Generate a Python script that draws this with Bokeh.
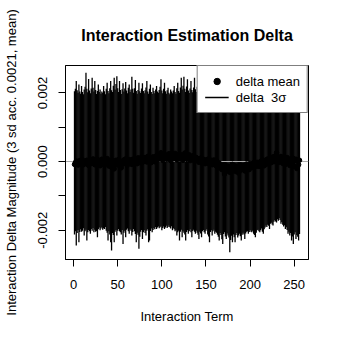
from bokeh.plotting import figure
from bokeh.models import Range1d, FixedTicker, Legend, LegendItem, ColumnDataSource
from bokeh.embed import file_html
from bokeh.resources import INLINE

# ---- data ----
term = list(range(1, 257))

delta_mean = [
    -0.00008, -0.00003, 0.00002, -0.00006, -0.00010, -0.00004, 0.00003, -0.00007, -0.00002, 0.00005, -0.00009, -0.00004, 0.00001, -0.00006, 0.00004, -0.00003,
    -0.00011, 0.00002, 0.00006, -0.00005, -0.00002, 0.00008, -0.00004, -0.00009, 0.00003, 0.00000, -0.00006, 0.00005, -0.00003, -0.00012, 0.00002, 0.00007,
    -0.00004, -0.00008, 0.00004, 0.00001, -0.00005, 0.00009, -0.00002, -0.00013, 0.00003, -0.00007, -0.00016, 0.00002, -0.00004, -0.00021, -0.00006, 0.00004,
    -0.00009, -0.00003, 0.00006, -0.00011, -0.00002, -0.00018, 0.00001, -0.00007, 0.00005, -0.00004, 0.00008, -0.00002, -0.00010, 0.00003, 0.00006, -0.00005,
    0.00002, -0.00008, 0.00007, 0.00000, -0.00004, 0.00009, 0.00003, -0.00006, 0.00011, 0.00001, -0.00003, 0.00006, 0.00013, -0.00002, 0.00004, 0.00009,
    0.00012, 0.00003, -0.00001, 0.00015, 0.00006, 0.00002, 0.00010, -0.00003, 0.00007, 0.00014, 0.00004, 0.00000, 0.00009, 0.00017, 0.00005, 0.00011,
    0.00019, 0.00008, 0.00026, 0.00012, 0.00004, 0.00016, 0.00021, 0.00009, 0.00014, 0.00006, 0.00018, 0.00023, 0.00011, 0.00003, 0.00015, 0.00020,
    0.00008, 0.00013, 0.00024, 0.00010, 0.00005, 0.00017, 0.00012, 0.00022, 0.00007, 0.00014, 0.00019, 0.00004, 0.00011, 0.00025, 0.00009, 0.00016,
    0.00006, 0.00013, 0.00020, 0.00003, 0.00010, 0.00015, 0.00007, 0.00018, 0.00002, 0.00009, 0.00012, 0.00004, 0.00008, -0.00002, 0.00006, 0.00010,
    0.00001, -0.00004, 0.00007, 0.00003, -0.00006, 0.00005, 0.00000, -0.00003, 0.00008, -0.00007, 0.00002, 0.00004, -0.00009, -0.00001, 0.00005, -0.00005,
    -0.00011, 0.00002, -0.00008, -0.00014, -0.00004, -0.00018, -0.00009, -0.00023, -0.00012, -0.00016, -0.00036, -0.00010, -0.00020, -0.00027, -0.00013, -0.00019,
    -0.00031, -0.00015, -0.00022, -0.00008, -0.00025, -0.00017, -0.00012, -0.00029, -0.00020, -0.00014, -0.00033, -0.00018, -0.00010, -0.00024, -0.00016, -0.00021,
    -0.00011, -0.00027, -0.00015, -0.00007, -0.00019, -0.00012, -0.00023, -0.00005, -0.00014, -0.00009, -0.00017, -0.00003, -0.00011, -0.00006, -0.00013, -0.00002,
    -0.00008, -0.00014, -0.00004, 0.00001, -0.00010, -0.00006, 0.00003, -0.00012, -0.00002, 0.00005, -0.00007, 0.00008, -0.00004, 0.00002, 0.00011, -0.00003,
    0.00006, 0.00014, 0.00000, 0.00009, 0.00018, 0.00026, 0.00004, 0.00012, -0.00002, 0.00007, 0.00015, 0.00003, -0.00005, 0.00010, 0.00001, -0.00008,
    0.00006, 0.00012, -0.00003, 0.00004, -0.00011, 0.00008, 0.00002, -0.00006, 0.00009, -0.00014, 0.00003, 0.00007, -0.00020, 0.00005, -0.00009, 0.00004,
]

delta_upper = [
    0.00205, 0.00212, 0.00235, 0.00208, 0.00201, 0.00225, 0.00204, 0.00198, 0.00220, 0.00203, 0.00196, 0.00210, 0.00218, 0.00259, 0.00212, 0.00202,
    0.00241, 0.00207, 0.00199, 0.00213, 0.00244, 0.00215, 0.00204, 0.00235, 0.00209, 0.00197, 0.00206, 0.00225, 0.00203, 0.00210, 0.00198, 0.00204,
    0.00201, 0.00220, 0.00205, 0.00196, 0.00212, 0.00230, 0.00206, 0.00199, 0.00214, 0.00235, 0.00208, 0.00203, 0.00221, 0.00244, 0.00210, 0.00226,
    0.00249, 0.00214, 0.00203, 0.00235, 0.00209, 0.00197, 0.00211, 0.00228, 0.00204, 0.00213, 0.00232, 0.00207, 0.00199, 0.00215, 0.00225, 0.00203,
    0.00210, 0.00247, 0.00212, 0.00201, 0.00214, 0.00238, 0.00206, 0.00198, 0.00209, 0.00230, 0.00205, 0.00200, 0.00213, 0.00228, 0.00206, 0.00199,
    0.00208, 0.00216, 0.00235, 0.00204, 0.00198, 0.00212, 0.00225, 0.00203, 0.00197, 0.00215, 0.00206, 0.00199, 0.00210, 0.00220, 0.00204, 0.00201,
    0.00209, 0.00218, 0.00240, 0.00207, 0.00199, 0.00212, 0.00230, 0.00205, 0.00198, 0.00208, 0.00215, 0.00201, 0.00196, 0.00210, 0.00204, 0.00199,
    0.00207, 0.00220, 0.00203, 0.00198, 0.00214, 0.00230, 0.00206, 0.00201, 0.00216, 0.00244, 0.00210, 0.00221, 0.00247, 0.00212, 0.00203, 0.00219,
    0.00240, 0.00207, 0.00200, 0.00213, 0.00235, 0.00209, 0.00202, 0.00216, 0.00244, 0.00211, 0.00203, 0.00218, 0.00231, 0.00206, 0.00212, 0.00226,
    0.00209, 0.00236, 0.00204, 0.00198, 0.00215, 0.00228, 0.00206, 0.00201, 0.00219, 0.00242, 0.00210, 0.00203, 0.00214, 0.00233, 0.00207, 0.00200,
    0.00212, 0.00225, 0.00204, 0.00197, 0.00211, 0.00238, 0.00206, 0.00199, 0.00216, 0.00229, 0.00203, 0.00210, 0.00221, 0.00245, 0.00208, 0.00201,
    0.00213, 0.00232, 0.00205, 0.00198, 0.00217, 0.00226, 0.00203, 0.00211, 0.00240, 0.00207, 0.00200, 0.00214, 0.00229, 0.00204, 0.00209, 0.00236,
    0.00206, 0.00199, 0.00212, 0.00227, 0.00203, 0.00215, 0.00241, 0.00208, 0.00201, 0.00210, 0.00224, 0.00205, 0.00198, 0.00213, 0.00234, 0.00207,
    0.00202, 0.00216, 0.00228, 0.00204, 0.00209, 0.00237, 0.00206, 0.00199, 0.00211, 0.00223, 0.00203, 0.00214, 0.00243, 0.00208, 0.00201, 0.00212,
    0.00226, 0.00205, 0.00210, 0.00239, 0.00207, 0.00200, 0.00215, 0.00231, 0.00204, 0.00211, 0.00222, 0.00206, 0.00199, 0.00217, 0.00235, 0.00208,
    0.00203, 0.00213, 0.00229, 0.00205, 0.00210, 0.00244, 0.00207, 0.00201, 0.00216, 0.00227, 0.00204, 0.00212, 0.00233, 0.00206, 0.00209, 0.00221,
]

delta_lower = [
    -0.00212, -0.00203, -0.00244, -0.00208, -0.00199, -0.00235, -0.00205, -0.00197, -0.00204, -0.00201, -0.00194, -0.00215, -0.00203, -0.00198, -0.00230, -0.00206,
    -0.00199, -0.00203, -0.00210, -0.00196, -0.00201, -0.00193, -0.00206, -0.00198, -0.00204, -0.00202, -0.00220, -0.00197, -0.00192, -0.00200, -0.00195, -0.00191,
    -0.00198, -0.00194, -0.00196, -0.00190, -0.00201, -0.00207, -0.00230, -0.00203, -0.00212, -0.00235, -0.00259, -0.00208, -0.00214, -0.00235, -0.00204, -0.00199,
    -0.00215, -0.00201, -0.00196, -0.00203, -0.00206, -0.00212, -0.00199, -0.00240, -0.00207, -0.00201, -0.00220, -0.00198, -0.00195, -0.00203, -0.00210, -0.00197,
    -0.00201, -0.00215, -0.00205, -0.00196, -0.00203, -0.00211, -0.00235, -0.00207, -0.00213, -0.00254, -0.00219, -0.00204, -0.00199, -0.00225, -0.00206, -0.00200,
    -0.00208, -0.00215, -0.00201, -0.00197, -0.00235, -0.00230, -0.00202, -0.00195, -0.00206, -0.00199, -0.00193, -0.00197, -0.00190, -0.00196, -0.00192, -0.00189,
    -0.00194, -0.00191, -0.00188, -0.00200, -0.00193, -0.00189, -0.00196, -0.00192, -0.00187, -0.00193, -0.00190, -0.00186, -0.00191, -0.00195, -0.00188, -0.00200,
    -0.00194, -0.00197, -0.00203, -0.00199, -0.00215, -0.00206, -0.00201, -0.00230, -0.00204, -0.00198, -0.00220, -0.00203, -0.00207, -0.00212, -0.00230, -0.00205,
    -0.00200, -0.00210, -0.00203, -0.00197, -0.00206, -0.00220, -0.00202, -0.00198, -0.00204, -0.00210, -0.00201, -0.00207, -0.00213, -0.00225, -0.00204, -0.00209,
    -0.00220, -0.00203, -0.00199, -0.00206, -0.00210, -0.00201, -0.00197, -0.00212, -0.00218, -0.00235, -0.00205, -0.00200, -0.00215, -0.00203, -0.00198, -0.00210,
    -0.00204, -0.00207, -0.00213, -0.00219, -0.00230, -0.00208, -0.00214, -0.00226, -0.00240, -0.00211, -0.00206, -0.00218, -0.00225, -0.00209, -0.00215, -0.00221,
    -0.00264, -0.00228, -0.00216, -0.00235, -0.00212, -0.00220, -0.00235, -0.00214, -0.00208, -0.00221, -0.00215, -0.00210, -0.00217, -0.00230, -0.00213, -0.00207,
    -0.00212, -0.00225, -0.00209, -0.00204, -0.00203, -0.00210, -0.00205, -0.00199, -0.00204, -0.00206, -0.00201, -0.00210, -0.00214, -0.00220, -0.00207, -0.00200,
    -0.00198, -0.00203, -0.00206, -0.00200, -0.00195, -0.00204, -0.00210, -0.00197, -0.00192, -0.00186, -0.00190, -0.00184, -0.00187, -0.00196, -0.00181, -0.00178,
    -0.00183, -0.00186, -0.00175, -0.00171, -0.00174, -0.00177, -0.00168, -0.00172, -0.00165, -0.00170, -0.00181, -0.00176, -0.00184, -0.00189, -0.00185, -0.00196,
    -0.00191, -0.00199, -0.00210, -0.00204, -0.00215, -0.00208, -0.00230, -0.00218, -0.00240, -0.00212, -0.00206, -0.00225, -0.00214, -0.00219, -0.00230, -0.00211,
]

x_ticks = [0, 50, 100, 150, 200, 250]
y_ticks = [-0.002, -0.001, 0.0, 0.001, 0.002]
y_tick_labels = ["-0.002", "", "0.000", "", "0.002"]
zero_line = [0.0]

assert len(delta_mean) == len(delta_upper) == len(delta_lower) == len(term) == 256

FONT = "Liberation Sans"

p = figure(
    width=333, height=333,
    output_backend="svg", toolbar_location=None,
    x_range=Range1d(-9.2, 266.2), y_range=Range1d(-0.00285, 0.0028),
    min_border_left=65, min_border_right=25, min_border_top=65, min_border_bottom=74,
    title="Interaction Estimation Delta",
)
p.background_fill_color = "white"
p.border_fill_color = "white"
p.outline_line_color = "black"
p.outline_line_width = 1
p.grid.visible = False

p.title.align = "center"
p.title.vertical_align = "middle"
p.title.text_font = FONT
p.title.text_font_size = "16px"
p.title.text_font_style = "bold"
p.title.text_color = "black"
p.title.standoff = 42

src = ColumnDataSource(dict(x=term, lo=delta_lower, hi=delta_upper, m=delta_mean))

seg = p.segment(x0="x", y0="lo", x1="x", y1="hi", source=src, line_color="black", line_width=1.3)
p.hspan(y=zero_line, line_color="#a8a8a8", line_width=1)
pts = p.scatter("x", "m", source=src, size=4.5, fill_color="black", line_color="black")

for ax in (p.xaxis[0], p.yaxis[0]):
    ax.axis_line_color = "black"
    ax.major_tick_line_color = "black"
    ax.major_tick_out = 7
    ax.major_tick_in = 0
    ax.minor_tick_line_color = None
    ax.major_label_text_font = FONT
    ax.major_label_text_font_size = "13px"
    ax.major_label_text_color = "black"
    ax.axis_label_text_font = FONT
    ax.axis_label_text_font_size = "13px"
    ax.axis_label_text_font_style = "normal"
    ax.axis_label_text_color = "black"

p.xaxis[0].ticker = FixedTicker(ticks=x_ticks)
p.xaxis[0].axis_label = "Interaction Term"
p.xaxis[0].major_label_standoff = 13
p.xaxis[0].axis_label_standoff = 17

p.yaxis[0].ticker = FixedTicker(ticks=y_ticks)
p.yaxis[0].major_label_overrides = {t: s for t, s in zip(y_ticks, y_tick_labels)}
p.yaxis[0].major_label_orientation = "vertical"
p.yaxis[0].axis_label = "Interaction Delta Magnitude (3 sd acc. 0.0021, mean)"
p.yaxis[0].major_label_standoff = 11
p.yaxis[0].axis_label_standoff = 17

legend = Legend(
    items=[LegendItem(label="delta mean", renderers=[pts]),
           LegendItem(label="delta  3σ", renderers=[seg])],
    location="top_right", margin=0, padding=7, spacing=0,
    glyph_width=24, glyph_height=16, label_height=16, label_standoff=7,
    label_text_font=FONT, label_text_font_size="13px", label_text_color="black",
    border_line_color="black", border_line_width=1,
    background_fill_color="white", background_fill_alpha=1.0,
)
p.add_layout(legend)

open("out.html", "w").write(file_html(p, INLINE))
